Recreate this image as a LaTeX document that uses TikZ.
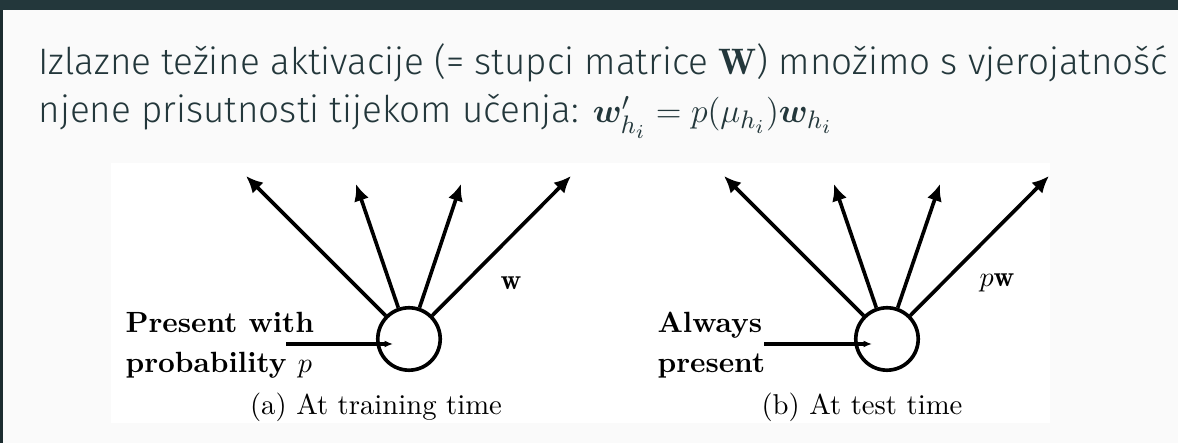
\documentclass[tikz,border=0pt]{standalone}
\usepackage{fontspec}
\usepackage{amsmath,bm}
\usetikzlibrary{arrows.meta}
\newfontfamily\slidefont{Fira Sans Light}
\definecolor{slidebar}{HTML}{23373B}
\definecolor{slidebg}{HTML}{FAFAFA}
\tikzset{
	unit/.style={circle,draw,line width=1.3pt,minimum size=0.78cm,inner sep=0pt},
	outarrow/.style={-{Latex[length=6pt,width=5.5pt]},line width=1.3pt},
	inarrow/.style={-{Latex[length=3pt,width=2.5pt]},line width=1.3pt},
	heading/.style={anchor=base west,inner sep=0pt,text=slidebar,font=\slidefont\fontsize{13.1}{16}\selectfont},
	side/.style={anchor=base west,inner sep=0pt,font=\fontsize{10.4}{12}\selectfont\bfseries},
	caption/.style={font=\fontsize{10.2}{12}\selectfont},
}
\begin{document}
\begin{tikzpicture}[x=0.0125cm,y=-0.0125cm]
	\useasboundingbox (0,0) rectangle (1178,443);
	\fill[slidebg] (0,0) rectangle (1178,443);
	\fill[slidebar] (0,0) rectangle (1178,10);
	\fill[slidebar!80!black] (0,10) rectangle (3,443);
	\fill[white] (111,163) rectangle (1050,423);
	% slide text
	\node[heading] (h1) at (38,75) {Izlazne težine aktivacije (= stupci matrice $\mathbf{W}$) množimo s vjerojatnošć};
	\node[heading] (h2) at (38,123) {njene prisutnosti tijekom učenja: $\bm{w}'_{h_i} = p(\mu_{h_i})\bm{w}_{h_i}$};
	% (a) training
	\node[unit] (ua) at (409,339) {};
	\coordinate (ta1) at (246,176);
	\coordinate (ta2) at (356,184);
	\coordinate (ta3) at (461,184);
	\coordinate (ta4) at (571,176);
	\draw[outarrow] (ua) -- (ta1);
	\draw[outarrow] (ua) -- (ta2);
	\draw[outarrow] (ua) -- (ta3);
	\draw[outarrow] (ua) -- (ta4);
	\coordinate (sa) at (286,344);
	\coordinate (ea) at (393,344);
	\draw[inarrow] (sa) -- (ea);
	\node[side] (pa1) at (125,333) {Present with};
	\node[side] (pa2) at (125,373) {probability $p$};
	\node[caption] (wa) at (511,283) {$\mathbf{w}$};
	\node[caption] (capa) at (376,407) {(a) At training time};
	% (b) test
	\node[unit] (ub) at (887,339) {};
	\coordinate (tb1) at (724,176);
	\coordinate (tb2) at (834,184);
	\coordinate (tb3) at (940,184);
	\coordinate (tb4) at (1049,176);
	\draw[outarrow] (ub) -- (tb1);
	\draw[outarrow] (ub) -- (tb2);
	\draw[outarrow] (ub) -- (tb3);
	\draw[outarrow] (ub) -- (tb4);
	\coordinate (sb) at (764,344);
	\coordinate (eb) at (872,344);
	\draw[inarrow] (sb) -- (eb);
	\node[side] (pb1) at (657,333) {Always};
	\node[side] (pb2) at (657,373) {present};
	\node[caption] (wb) at (997,283) {$p\mathbf{w}$};
	\node[caption] (capb) at (862,407) {(b) At test time};
\end{tikzpicture}
\end{document}
